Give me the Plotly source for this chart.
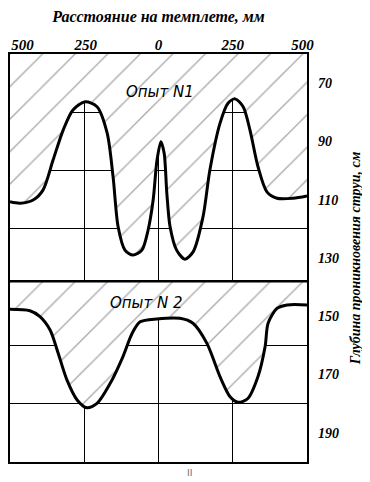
import plotly.graph_objects as go

# Distance along template (mm): left side negative, right side positive
dist_1 = [-500, -466, -422, -389, -355, -321, -288, -247, -207, -173, -153, -136, -113, -86, -56, -35, -18,
          -5, 8, 19, 28, 39, 61, 89, 117, 150, 173, 207, 234, 258, 285, 308, 335, 365, 399, 453, 500]
depth_1 = [110.7, 111.2, 110.1, 106.7, 96.4, 86.1, 79.2, 76.4, 78.1, 87.1, 102.1, 119.3, 127.3, 129.0, 127.3,
           120.4, 110.1, 96.4, 90.1, 94.0, 107.7, 119.3, 127.3, 130.4, 127.8, 115.8, 99.8, 83.8, 76.9, 75.4,
           78.1, 86.1, 98.7, 107.3, 109.5, 109.5, 108.7]

dist_2 = [-500, -433, -399, -365, -338, -308, -274, -241, -207, -163, -120, -89, -62, -5, 72, 116, 163, 207,
          241, 268, 301, 335, 359, 369, 399, 433, 500]
depth_2 = [147.6, 148.1, 150.1, 154.7, 162.6, 171.9, 178.7, 181.4, 179.9, 173.1, 163.9, 155.9, 151.9, 150.9,
           150.7, 152.4, 159.3, 170.7, 177.6, 179.5, 178.2, 170.7, 160.4, 152.4, 147.3, 146.1, 146.1]

x_gridvals = [-250, 0, 250]
x_labelvals = [-458, -245, 0, 250, 485]   # outer labels sit just inside the frame
x_ticktext = ["500", "250", "0", "250", "500"]
y_gridvals = [80, 100, 120, 140, 160, 180]
y_labelvals = [70, 90, 110, 130, 150, 170, 190]
panel_top = [60, 138]
panel_names = ["Опыт N1", "Опыт N 2"]

serif = "Liberation Serif"
hatch = dict(shape="/", size=23, solidity=0.06, fgcolor="#555555", bgcolor="white")

fig = go.Figure()

for top, xs, ys, lw in [(panel_top[0], dist_1, depth_1, 0), (panel_top[1], dist_2, depth_2, 2.5)]:
    fig.add_trace(go.Scatter(x=[-500, 500], y=[top, top], mode="lines",
                             line=dict(color="black", width=lw), showlegend=False, hoverinfo="skip"))
    fig.add_trace(go.Scatter(x=xs, y=ys, mode="lines", fill="tonexty",
                             fillcolor="rgba(0,0,0,0)", fillpattern=hatch,
                             line=dict(color="black", width=3, shape="spline", smoothing=0.8),
                             showlegend=False))

# invisible trace for the label axes
fig.add_trace(go.Scatter(x=[None], y=[None], xaxis="x2", yaxis="y2", showlegend=False))

label_font = dict(family="DejaVu Sans", size=15, style="italic", color="black")
fig.add_annotation(x=5, y=73, text=panel_names[0], showarrow=False, font=label_font)
fig.add_annotation(x=-39, y=145.5, text=panel_names[1], showarrow=False, font=label_font)
fig.add_annotation(x=0.606, y=-0.027, xref="paper", yref="paper", yanchor="middle",
                   text="II", showarrow=False,
                   font=dict(family="DejaVu Sans", size=9, color="#666666"))

bold_it = dict(family=serif, style="italic", weight="bold", color="black")

# page has an 8px body margin, so the figure is sized/offset to compensate
fig.update_layout(
    width=362, height=474,
    margin=dict(l=2, r=63, t=46, b=20),
    paper_bgcolor="white", plot_bgcolor="white",
    xaxis=dict(range=[-500, 500], tickvals=x_gridvals, showticklabels=False,
               showgrid=True, gridcolor="black", gridwidth=1, zeroline=False,
               showline=True, linecolor="black", linewidth=2, mirror=True,
               ticks="", automargin=False),
    xaxis2=dict(range=[-500, 500], overlaying="x", side="top", tickvals=x_labelvals,
                ticktext=x_ticktext, showgrid=False, zeroline=False, showline=False,
                ticks="", ticklabelstandoff=0, ticklabeloverflow="allow",
                tickfont=dict(size=15, **bold_it),
                title=dict(text="Расстояние на темплете, мм", standoff=18,
                           font=dict(size=16, **bold_it)),
                automargin=False),
    yaxis=dict(range=[200, 60], tickvals=y_gridvals, showticklabels=False,
               showgrid=True, gridcolor="black", gridwidth=1, zeroline=False,
               showline=True, linecolor="black", linewidth=2, mirror=True, ticks="",
               automargin=False),
    yaxis2=dict(range=[200, 60], overlaying="y", side="right", tickvals=y_labelvals,
                showgrid=False, zeroline=False, ticks="", ticklabelstandoff=10,
                tickfont=dict(size=14, **bold_it),
                title=dict(text="Глубина проникновения струи, см", standoff=12,
                           font=dict(size=14, **bold_it)),
                automargin=False),
)

fig.write_html("out.html")
